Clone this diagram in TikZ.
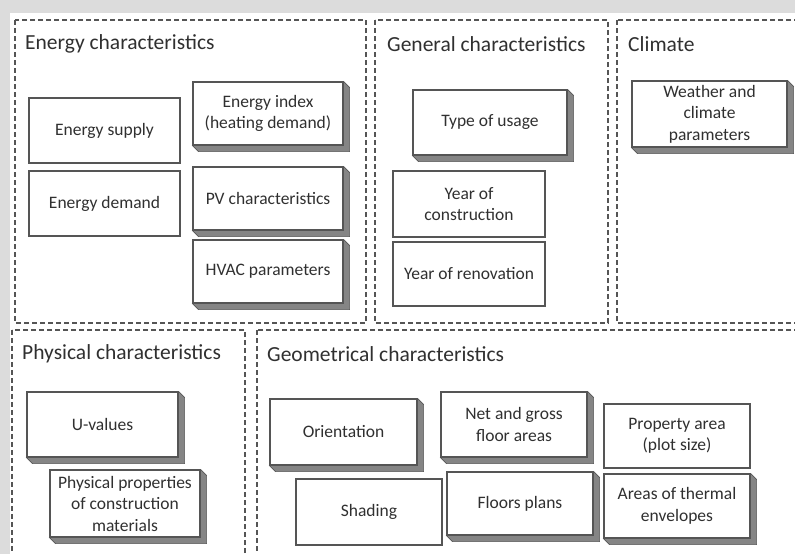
\documentclass[tikz,border=0pt]{standalone}
\usepackage{fontspec}
\setmainfont{Carlito}
\usetikzlibrary{backgrounds}
\definecolor{bggray}{HTML}{DCDCDC}
\definecolor{linec}{HTML}{555555}
\definecolor{shadc}{HTML}{858585}
\definecolor{txtc}{HTML}{303030}
\tikzset{
  panel/.style={draw=linec, line width=1.1pt, dash pattern=on 5pt off 3pt},
  title/.style={anchor=west, inner sep=0pt, text=txtc, font=\fontsize{21.5}{25}\selectfont},
  box/.style={draw=linec, line width=1.1pt, fill=white, inner sep=2pt, align=center,
    text=txtc, font=\fontsize{17.5}{21.5}\selectfont},
  raised/.style={fill=shadc, draw=linec, line width=0.6pt}
}
\begin{document}
\begin{tikzpicture}[x=1pt,y=-1pt]
\useasboundingbox (0,0) rectangle (795,554);
% titles
\node[title] (t1) at (25,44) {Energy characteristics};
\node[title] (t2) at (387,44) {General characteristics};
\node[title] (t3) at (628,44) {Climate};
\node[title] (t4) at (22,354) {Physical characteristics};
\node[title] (t5) at (267,354) {Geometrical characteristics};
% boxes
\node[box, minimum width=151pt, minimum height=65pt] (esup) at (104.5,130.5) {Energy supply};
\node[box, minimum width=151pt, minimum height=65pt] (edem) at (104.5,203.5) {Energy demand};
\node[box, minimum width=150pt, minimum height=63pt] (eidx) at (268,113.5) {Energy index\\(heating demand)};
\node[box, minimum width=150pt, minimum height=63pt] (pv) at (268,198.5) {PV characteristics};
\node[box, minimum width=150pt, minimum height=63pt] (hvac) at (268,271.5) {HVAC parameters};
\node[box, minimum width=154pt, minimum height=65pt] (usage) at (490,122.5) {Type of usage};
\node[box, minimum width=152pt, minimum height=66pt] (yconst) at (469,204) {Year of\\construction};
\node[box, minimum width=152pt, minimum height=64pt] (yren) at (469,274) {Year of renovation};
\node[box, minimum width=155pt, minimum height=66pt, inner sep=0pt] (weather) at (709.5,114) {Weather and\\climate\\parameters};
\node[box, minimum width=151pt, minimum height=65pt] (uval) at (102.5,424.5) {U-values};
\node[box, minimum width=150pt, minimum height=67pt, inner sep=0pt] (phys) at (125,503.5) {Physical properties\\of construction\\materials};
\node[box, minimum width=147pt, minimum height=66pt] (orient) at (343.5,432) {Orientation};
\node[box, minimum width=146pt, minimum height=66pt] (shad) at (369,512) {Shading};
\node[box, minimum width=146pt, minimum height=65pt] (netg) at (514,424.5) {Net and gross\\floor areas};
\node[box, minimum width=146pt, minimum height=63pt] (floors) at (520,503.5) {Floors plans};
\node[box, minimum width=146pt, minimum height=64pt] (prop) at (677,436) {Property area\\(plot size)};
\node[box, minimum width=146pt, minimum height=64pt] (therm) at (677,506) {Areas of thermal\\envelopes};
\begin{scope}[on background layer]
\fill[bggray] (0,0) rectangle (795,554);
\fill[white] (10,13) rectangle (795,554);
\begin{scope}
\clip (0,0) rectangle (795,554);
\draw[panel] (15,20) rectangle (366,323);
\draw[panel] (375,20) rectangle (608,323);
\draw[panel] (617,20) rectangle (805,323);
\draw[panel] (12,330) rectangle (245,565);
\draw[panel] (257,330) rectangle (805,565);
\end{scope}
% 3D shadows
\foreach \n in {eidx,pv,hvac,usage,weather,uval,phys,orient,netg,floors,therm}{
  \filldraw[raised] (\n.south west) -- ++(6,6) -- ([shift={(6,6)}]\n.south east)
     -- ([shift={(6,6)}]\n.north east) -- (\n.north east) -- cycle;
}
\end{scope}
\end{tikzpicture}
\end{document}
